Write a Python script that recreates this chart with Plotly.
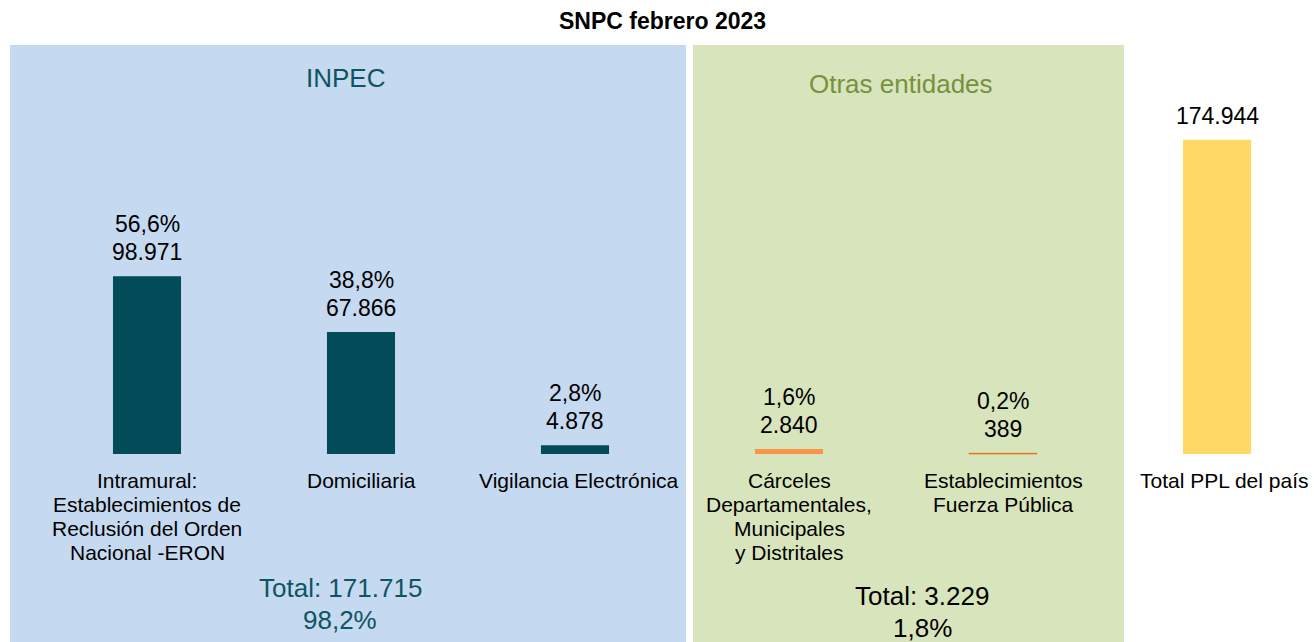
import plotly.graph_objects as go

# ---------------- data ----------------
categories = ["Intramural", "Domiciliaria", "Vigilancia Electrónica",
              "Cárceles Departamentales", "Establecimientos Fuerza Pública",
              "Total PPL del país"]
label_lines = [
    ["Intramural:", "Establecimientos de", "Reclusión del Orden", "Nacional -ERON"],
    ["Domiciliaria"],
    ["Vigilancia Electrónica"],
    ["Cárceles", "Departamentales,", "Municipales", "y Distritales"],
    ["Establecimientos", "Fuerza Pública"],
    ["Total PPL del país"],
]
values = [98971, 67866, 4878, 2840, 389, 174944]
value_text = ["98.971", "67.866", "4.878", "2.840", "389", "174.944"]
pct_text = ["56,6%", "38,8%", "2,8%", "1,6%", "0,2%", ""]
bar_colors = ["#024B59", "#024B59", "#024B59", "#F79646", "#E46C0A", "#FFD966"]

group_titles = ["INPEC", "Otras entidades"]
group_totals = ["Total: 171.715", "Total: 3.229"]
group_pcts = ["98,2%", "1,8%"]

# ---------------- figure ----------------
W, H = 1314, 642
FONT = "Liberation Sans, Arial, sans-serif"

def py(px):
    return 1 - px / H

def pxx(px):
    return px / W

fig = go.Figure(go.Bar(
    x=categories, y=values, width=0.318,
    marker=dict(color=bar_colors,
                line=dict(width=[0, 0, 0, 0, 0.6, 0], color="#E46C0A")),
    hoverinfo="skip",
))

annotations = []
# value labels above bars
for c, v, vt, pt in zip(categories, values, value_text, pct_text):
    annotations.append(dict(x=c, y=v, xref="x", yref="y", text=vt, showarrow=False,
                            xanchor="center", yanchor="middle", yshift=24,
                            font=dict(size=23, color="#000000", family=FONT)))
    if pt:
        annotations.append(dict(x=c, y=v, xref="x", yref="y", text=pt, showarrow=False,
                                xanchor="center", yanchor="middle", yshift=52,
                                font=dict(size=23, color="#000000", family=FONT)))

# category labels below bars
for i, (c, lines) in enumerate(zip(categories, label_lines)):
    for j, ln in enumerate(lines):
        annotations.append(dict(x=c, y=py(480 + 24 * j), xref="x", yref="paper", text=ln,
                                showarrow=False, xanchor="center", yanchor="middle",
                                xshift=7 if i == 5 else (4 if i == 2 else 0),
                                font=dict(size=21, color="#000000", family=FONT)))

# group headers and totals
title_colors = ["#0E5561", "#76923C"]
total_colors = ["#0E5561", "#000000"]
group_cx = [345, 901]
total_cx = [340, 922]
title_y = [78, 84]
total_y = [588, 596]
for k in range(2):
    annotations.append(dict(x=pxx(group_cx[k]), y=py(title_y[k]), xref="paper", yref="paper",
                            text=group_titles[k], showarrow=False,
                            xanchor="center", yanchor="middle",
                            font=dict(size=26, color=title_colors[k], family=FONT)))
    annotations.append(dict(x=pxx(total_cx[k]), y=py(total_y[k]), xref="paper", yref="paper",
                            text=group_totals[k], showarrow=False,
                            xanchor="center", yanchor="middle",
                            font=dict(size=26, color=total_colors[k], family=FONT)))
    annotations.append(dict(x=pxx(total_cx[k]), y=py(total_y[k] + 32), xref="paper", yref="paper",
                            text=group_pcts[k], showarrow=False,
                            xanchor="center", yanchor="middle",
                            font=dict(size=26, color=total_colors[k], family=FONT)))

# chart title
annotations.append(dict(x=pxx(662), y=py(21), xref="paper", yref="paper",
                        text="<b>SNPC febrero 2023</b>", showarrow=False,
                        xanchor="center", yanchor="middle",
                        font=dict(size=23, color="#000000", family=FONT)))

shapes = [
    dict(type="rect", xref="paper", yref="paper", x0=pxx(10), x1=pxx(686), y0=0, y1=py(45),
         fillcolor="#C5D9F1", line=dict(width=0), layer="below"),
    dict(type="rect", xref="paper", yref="paper", x0=pxx(693), x1=pxx(1124), y0=0, y1=py(45),
         fillcolor="#D8E4BC", line=dict(width=0), layer="below"),
]

units_per_px = 556.5
fig.update_layout(
    width=W, height=H, autosize=False,
    margin=dict(l=0, r=0, t=0, b=0),
    paper_bgcolor="#FFFFFF", plot_bgcolor="rgba(0,0,0,0)",
    showlegend=False,
    xaxis=dict(range=[-147 / 214, (W - 147) / 214], showticklabels=False, showgrid=False,
               zeroline=False, showline=False, fixedrange=True),
    yaxis=dict(range=[-(H - 454) * units_per_px, 454 * units_per_px], showticklabels=False,
               showgrid=False, zeroline=False, showline=False, fixedrange=True),
    annotations=annotations, shapes=shapes,
    font=dict(family=FONT),
)

fig.write_html("out.html", config={"displayModeBar": False},
               post_script="document.body.style.margin='0';document.body.style.overflow='hidden';")
